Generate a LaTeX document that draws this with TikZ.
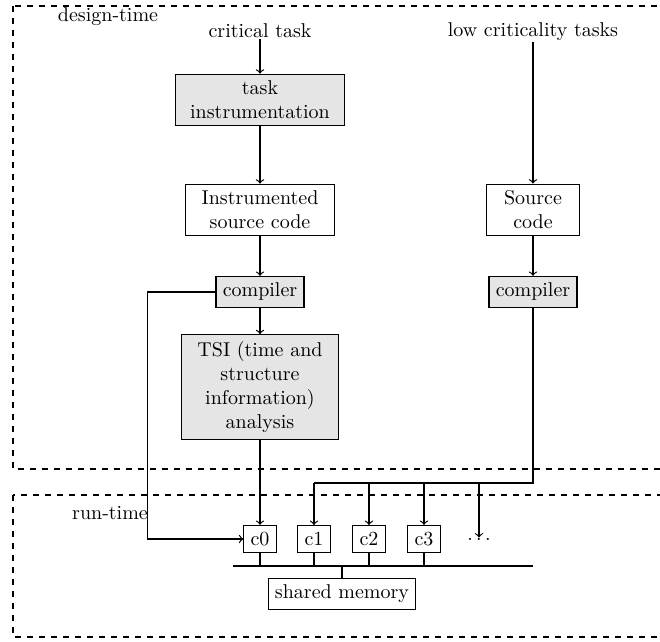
\documentclass[tikz,border=0pt]{standalone}
\usepackage{tikz}

\tikzset{
  blk/.style={draw, semithick, align=center},
  tool/.style={blk, fill=black!10},
  flow/.style={semithick, ->},
  zone/.style={dashed, semithick}
}

\begin{document}
\begin{tikzpicture}[x=0.5pt,y=-0.5pt]
\path[use as bounding box] (0,0) rectangle (660,642);
\clip (0,0) rectangle (660,642);
% the two phases
\draw[zone] (13,6) rectangle (700,469);
\draw[zone] (13,495) rectangle (700,637);
\node (dt) at (108,17) {design-time};
\node (rt) at (110,513) {run-time};
%
\node[inner sep=0.5pt] (crit) at (260,31) {critical task};
\node[inner sep=0.5pt] (low) at (533,32) {low criticality tasks};
	\node[tool, text width=78pt] (instr) at (260,100) {task\\instrumentation};
	\node[blk, text width=68pt] (isrc) at (260,210) {Instrumented\\source code};
	\node[tool] (ccomp) at (260,292) {compiler};
	\node[tool, text width=72pt] (tsi) at (260,387) {TSI (time and\\structure\\information)\\analysis};
	\node[blk, text width=40pt] (src) at (533,210) {Source\\code};
	\node[tool] (lcomp) at (533,292) {compiler};
%
\foreach \i/\x in {0/260,1/314,2/369,3/424}
	\node[blk] (c\i) at (\x,539) {c\i};
\node[inner sep=0pt] (dots) at (479,539) {$\dots$};
\node[blk] (mem) at (342,594) {shared memory};
%
\draw[flow] (crit) -- (instr);
\draw[flow] (instr) -- (isrc);
\draw[flow] (isrc) -- (ccomp);
\draw[flow] (ccomp) -- (tsi);
\draw[flow] (tsi) -- (c0);
\draw[flow] (low) -- (src);
\draw[flow] (src) -- (lcomp);
\draw[flow] (ccomp.west) -- ++(-68,0) |- (c0.west);
% low criticality code goes to the other cores
\coordinate (fork) at (533,483);
\draw[semithick] (lcomp) -- (fork) -- (fork -| c1);
\foreach \c in {c1,c2,c3,dots}
	\draw[flow] (fork -| \c) -- (\c.north);
% bus
\coordinate (busL) at (233,566);
\coordinate (busR) at (533,566);
\draw[semithick] (busL) -- (busR);
\foreach \i in {0,...,3}
	\draw[semithick] (c\i.south) -- (c\i.south |- busL);
\draw[semithick] (mem.north) -- (mem.north |- busL);
\end{tikzpicture}
\end{document}
